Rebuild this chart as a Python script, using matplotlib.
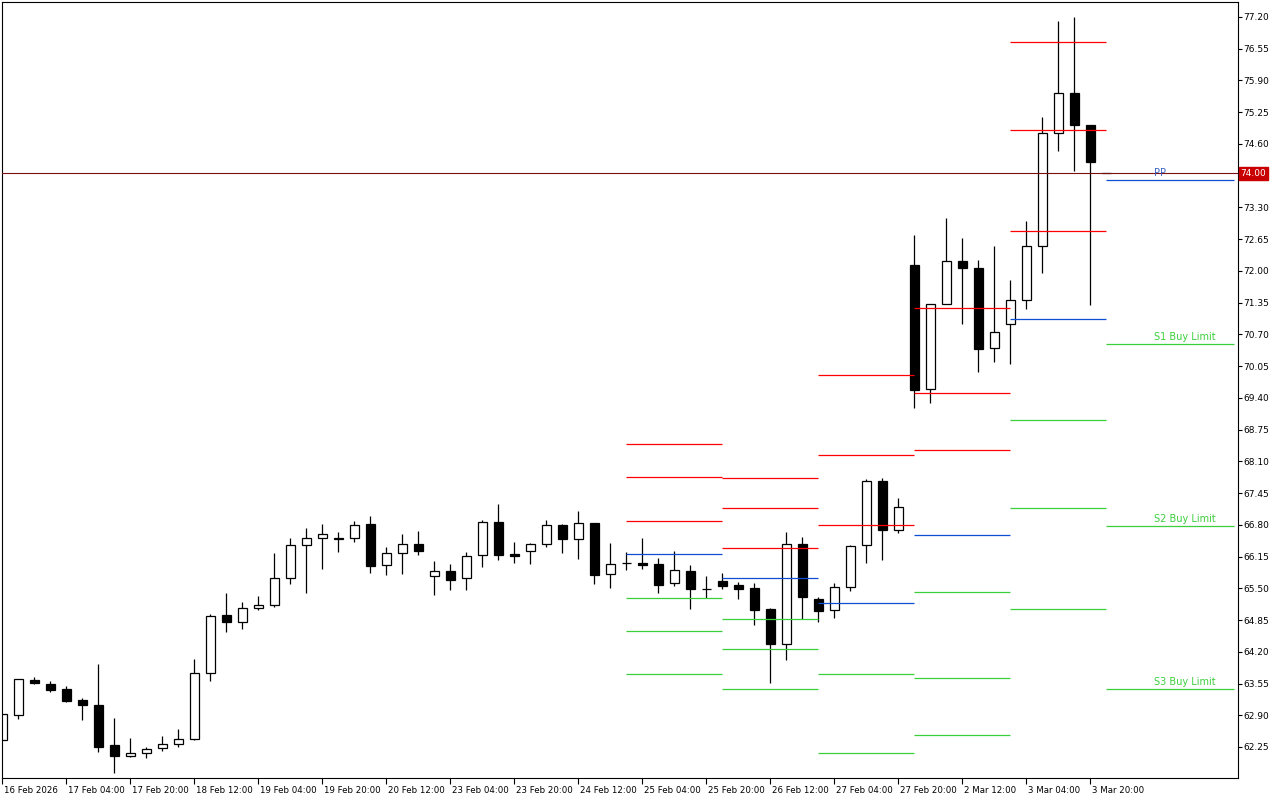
import numpy as np
import matplotlib.pyplot as plt
from matplotlib.transforms import ScaledTranslation, blended_transform_factory

plt.rcParams["font.family"] = "DejaVu Sans"

# H4 candles, bar 0 = leftmost bar on the chart (16 Feb 2026), last bar = 4 Mar 00:00
opens = [62.39, 62.90, 63.62, 63.54, 63.44, 63.21, 63.11, 62.29, 62.07, 62.12,
         62.22, 62.31, 62.41, 63.76, 64.95, 64.82, 65.09, 65.15, 65.71, 66.38,
         66.52, 66.52, 66.52, 66.82, 65.97, 66.22, 66.41, 65.75, 65.85, 65.71,
         66.18, 66.86, 66.20, 66.26, 66.40, 66.80, 66.50, 66.84, 65.79, 66.01,
         66.02, 66.00, 65.60, 65.85, 65.48, 65.65, 65.57, 65.51, 65.08, 64.35,
         66.41, 65.28, 65.05, 65.52, 66.38, 67.69, 66.69, 72.12, 69.58, 71.32,
         72.20, 72.05, 70.42, 70.91, 71.40, 72.50, 74.82, 75.64, 74.98, 74.00]
highs = [62.92, 63.64, 63.68, 63.60, 63.50, 63.25, 63.95, 62.84, 62.43, 62.25,
         62.48, 62.62, 64.05, 64.97, 65.40, 65.21, 65.34, 66.22, 66.52, 66.73,
         66.82, 66.65, 66.87, 66.98, 66.34, 66.61, 66.67, 66.06, 66.00, 66.24,
         66.89, 67.23, 66.45, 66.43, 66.90, 66.82, 67.08, 66.84, 66.43, 66.24,
         66.53, 66.12, 66.26, 65.98, 65.75, 65.81, 65.63, 65.61, 65.10, 66.65,
         66.55, 65.32, 65.61, 66.39, 67.73, 67.76, 67.35, 72.74, 71.32, 73.08,
         72.67, 72.22, 72.51, 71.81, 73.02, 75.15, 77.12, 77.20, 74.98, 74.00]
lows = [62.39, 62.82, 63.55, 63.38, 63.18, 62.81, 62.15, 61.72, 62.05, 62.03,
        62.17, 62.24, 62.40, 63.61, 64.61, 64.67, 65.05, 65.11, 65.58, 65.41,
        65.90, 66.25, 66.44, 65.82, 65.78, 65.79, 66.19, 65.37, 65.47, 65.47,
        65.94, 66.07, 66.02, 66.00, 66.35, 66.23, 66.11, 65.59, 65.51, 65.88,
        65.90, 65.41, 65.55, 65.08, 65.30, 65.49, 65.29, 64.75, 63.57, 64.04,
        64.88, 64.82, 64.90, 65.44, 66.02, 66.07, 66.64, 69.20, 69.30, 71.32,
        70.92, 69.92, 70.14, 70.10, 71.21, 71.96, 74.46, 74.05, 71.30, 74.00]
closes = [62.92, 63.64, 63.57, 63.42, 63.20, 63.10, 62.26, 62.07, 62.12, 62.20,
          62.31, 62.41, 63.76, 64.93, 64.82, 65.09, 65.15, 65.71, 66.38, 66.52,
          66.61, 66.50, 66.79, 65.96, 66.22, 66.40, 66.27, 65.85, 65.68, 66.16,
          66.85, 66.19, 66.17, 66.40, 66.79, 66.50, 66.83, 65.78, 65.99, 66.01,
          65.98, 65.57, 65.88, 65.49, 65.48, 65.55, 65.49, 65.06, 64.35, 66.40,
          65.33, 65.04, 65.52, 66.36, 67.69, 66.70, 67.16, 69.57, 71.32, 72.20,
          72.05, 70.41, 70.74, 71.40, 72.50, 74.82, 75.64, 74.99, 74.24, 74.00]

# time axis labels (every 4th bar)
tick_bars = [0, 4, 8, 12, 16, 20, 24, 28, 32, 36, 40, 44, 48, 52, 56, 60, 64, 68]
tick_labels = ["16 Feb 2026", "17 Feb 04:00", "17 Feb 20:00", "18 Feb 12:00",
               "19 Feb 04:00", "19 Feb 20:00", "20 Feb 12:00", "23 Feb 04:00",
               "23 Feb 20:00", "24 Feb 12:00", "25 Feb 04:00", "25 Feb 20:00",
               "26 Feb 12:00", "27 Feb 04:00", "27 Feb 20:00", "2 Mar 12:00",
               "3 Mar 04:00", "3 Mar 20:00"]

# daily pivot levels (bar index where each day starts / where its lines end)
day_start = [39, 45, 51, 57, 63, 69]
day_end = [45, 51, 57, 63, 69, 77]
r3 = [68.45, 67.75, 69.86, 71.25, 76.68, np.nan]
r2 = [67.77, 67.14, 68.24, 69.49, 74.88, np.nan]
r1 = [66.87, 66.32, 66.79, 68.33, 72.82, np.nan]
pp = [66.20, 65.71, 65.19, 66.59, 71.01, 73.86]
s1 = [65.30, 64.87, 63.74, 65.42, 68.94, 70.50]
s2 = [64.62, 64.25, 62.12, 63.66, 67.14, 66.78]
s3 = [63.74, 63.43, np.nan, 62.49, 65.07, 63.43]

bid = 74.00

RED = "#ff0000"
BLUE = "#0d4fd2"
GREEN = "#3ccf3c"

o = np.array(opens)
h = np.array(highs)
l = np.array(lows)
c = np.array(closes)
x = np.arange(len(o))

fig = plt.figure(figsize=(12.8, 8), dpi=100)
ax = fig.add_axes([2 / 1280, 22 / 800, 1236 / 1280, 776 / 800])

# wicks
ax.vlines(x, l, h, color="black", lw=0.9, zorder=1)

# bodies: white for up bars, black for down bars
up = c >= o
bottom = np.minimum(o, c)
height = np.maximum(np.abs(c - o), 0.004)
ax.bar(x[up], height[up], bottom=bottom[up], width=0.6, color="white",
       edgecolor="black", linewidth=0.9, zorder=2)
ax.bar(x[~up], height[~up], bottom=bottom[~up], width=0.6, color="black",
       edgecolor="black", linewidth=0.9, zorder=2)

# pivot levels
for levels, col in [(r3, RED), (r2, RED), (r1, RED), (pp, BLUE),
                    (s1, GREEN), (s2, GREEN), (s3, GREEN)]:
    ax.hlines(levels, day_start, day_end, colors=col, lw=0.9, zorder=3)

# labels on the current day's levels
lab_x = 72
ax.text(lab_x, pp[-1] + 0.04, "PP", color="#3d62c4", fontsize=7, va="bottom", ha="left", zorder=4)
ax.text(lab_x, s1[-1] + 0.04, "S1 Buy Limit", color=GREEN, fontsize=7, va="bottom", ha="left", zorder=4)
ax.text(lab_x, s2[-1] + 0.04, "S2 Buy Limit", color=GREEN, fontsize=7, va="bottom", ha="left", zorder=4)
ax.text(lab_x, s3[-1] + 0.04, "S3 Buy Limit", color=GREEN, fontsize=7, va="bottom", ha="left", zorder=4)

# bid line + price tag
ax.axhline(bid, color="#7a1010", lw=0.8, zorder=3)
trans = blended_transform_factory(ax.transAxes, ax.transData)
tag_off = ScaledTranslation(2.5 / 100, 0, fig.dpi_scale_trans)
ax.text(1.0, bid, "%.2f" % bid, transform=trans + tag_off, color="white", fontsize=6.5,
        va="center", ha="left", clip_on=False,
        bbox=dict(boxstyle="square,pad=0.2", fc="#c80000", ec="#c80000"))

# axes
ax.set_xlim(-0.02, 77.23)
ax.set_ylim(61.615, 77.507)
ax.set_xticks(tick_bars, tick_labels)
yt = np.round(np.arange(62.25, 77.21, 0.65), 2)
ax.set_yticks(yt, ["%.2f" % v for v in yt])
ax.yaxis.tick_right()
ax.tick_params(axis="y", direction="out", length=3, width=0.8, pad=1, labelsize=6.5)
ax.tick_params(axis="x", direction="out", length=4, width=0.8, pad=1.5, labelsize=6.2)
for sp in ax.spines.values():
    sp.set_linewidth(0.8)
    sp.set_color("black")

offset = ScaledTranslation(1.5 / 100, 0, fig.dpi_scale_trans)
for lbl in ax.xaxis.get_majorticklabels():
    lbl.set_horizontalalignment("left")
    lbl.set_transform(lbl.get_transform() + offset)

fig.savefig("out.png", dpi=100, facecolor="white")
